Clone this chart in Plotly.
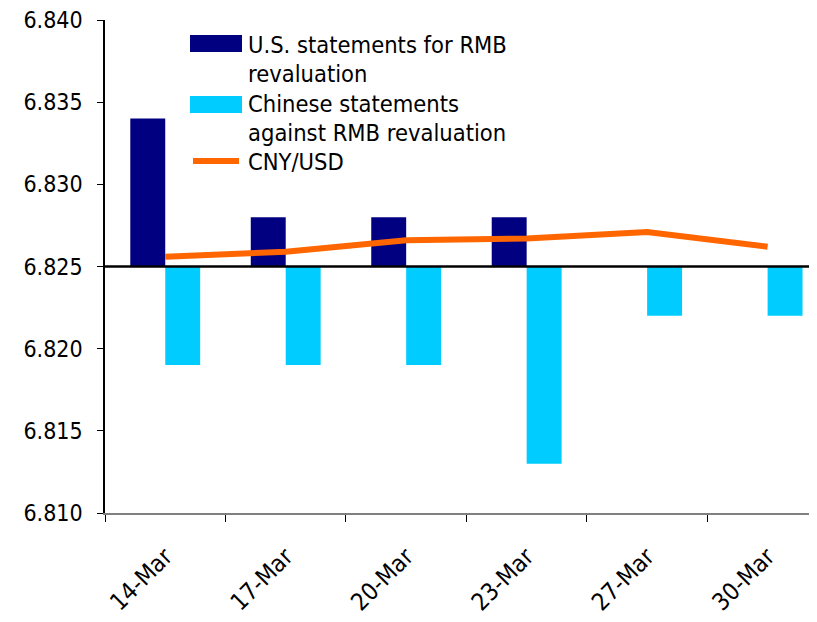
import plotly.graph_objects as go

# --- data -------------------------------------------------------------------
dates = ["14-Mar", "17-Mar", "20-Mar", "23-Mar", "27-Mar", "30-Mar"]
base_level = 6.825
us_statements = [6.834, 6.828, 6.828, 6.828, None, None]
cn_statements = [6.819, 6.819, 6.819, 6.813, 6.822, 6.822]
cny_usd = [6.8256, 6.8259, 6.8266, 6.8267, 6.8271, 6.8262]

y_ticks = [6.810, 6.815, 6.820, 6.825, 6.830, 6.835, 6.840]

# --- style ------------------------------------------------------------------
NAVY = "#000080"
CYAN = "#00ccff"
ORANGE = "#ff6600"
FONT = '"DejaVu Sans Condensed", "DejaVu Sans", sans-serif'

# the page body has an 8px margin, so the figure is shrunk by that much
PAGE_PAD = 8
PLOT_LEFT, PLOT_TOP, PLOT_BOTTOM = 105, 20, 513


def _offsets(values):
    return [None if v is None else v - base_level for v in values]


fig = go.Figure()
fig.add_trace(go.Bar(x=dates, y=_offsets(us_statements), base=base_level,
                     marker=dict(color=NAVY, line=dict(width=0)), name="U.S."))
fig.add_trace(go.Bar(x=dates, y=_offsets(cn_statements), base=base_level,
                     marker=dict(color=CYAN, line=dict(width=0)), name="Chinese"))
fig.add_trace(go.Scatter(x=dates, y=cny_usd, mode="lines", name="CNY/USD",
                         line=dict(color=ORANGE, width=6)))

fig.add_hline(y=base_level, line=dict(color="black", width=2.5), layer="above")


# hand-made legend (Excel style, large swatches); positions in screen pixels
def _px(x):
    return (x - PLOT_LEFT) / (817 - PLOT_LEFT)


def _py(y):
    return (PLOT_BOTTOM - y) / (PLOT_BOTTOM - PLOT_TOP)


fig.add_shape(type="rect", xref="paper", yref="paper", x0=_px(190), x1=_px(242),
              y0=_py(52), y1=_py(35), fillcolor=NAVY, line=dict(width=0))
fig.add_shape(type="rect", xref="paper", yref="paper", x0=_px(190), x1=_px(242),
              y0=_py(113), y1=_py(96), fillcolor=CYAN, line=dict(width=0))
fig.add_shape(type="line", xref="paper", yref="paper", x0=_px(193), x1=_px(239),
              y0=_py(161), y1=_py(161), line=dict(color=ORANGE, width=6))
legend_lines = [
    ("U.S. statements for RMB", 45),
    ("revaluation", 74),
    ("Chinese statements", 104),
    ("against RMB revaluation", 133),
    ("CNY/USD", 162),
]
for text, y in legend_lines:
    fig.add_annotation(text=text, xref="paper", yref="paper", x=_px(246), y=_py(y),
                       xanchor="left", yanchor="middle", showarrow=False,
                       font=dict(size=23.5, color="black", family=FONT))

fig.update_layout(
    width=817 - PAGE_PAD,
    height=622 - PAGE_PAD,
    barmode="group",
    bargap=0.42,
    bargroupgap=0,
    showlegend=False,
    paper_bgcolor="white",
    plot_bgcolor="white",
    font=dict(family=FONT, color="black", size=23),
    margin=dict(l=PLOT_LEFT - PAGE_PAD, r=0, t=PLOT_TOP - PAGE_PAD,
                b=622 - PLOT_BOTTOM),
)
fig.update_xaxes(
    type="category",
    range=[-0.5, 5.41],
    tickson="boundaries",
    ticks="outside",
    ticklen=7,
    tickcolor="black",
    tickangle=-45,
    ticklabelstandoff=18,
    tickfont=dict(size=24),
    showline=True,
    linecolor="#808080",
    linewidth=2,
    showgrid=False,
)
fig.update_yaxes(
    range=[6.810, 6.840],
    tickvals=y_ticks,
    tickformat=".3f",
    ticks="outside",
    ticklen=6,
    tickcolor="black",
    ticklabelstandoff=10,
    ticklabeloverflow="allow",
    tickfont=dict(size=23),
    showline=True,
    linecolor="black",
    linewidth=1.5,
    showgrid=False,
    zeroline=False,
)

fig.write_html("out.html")
